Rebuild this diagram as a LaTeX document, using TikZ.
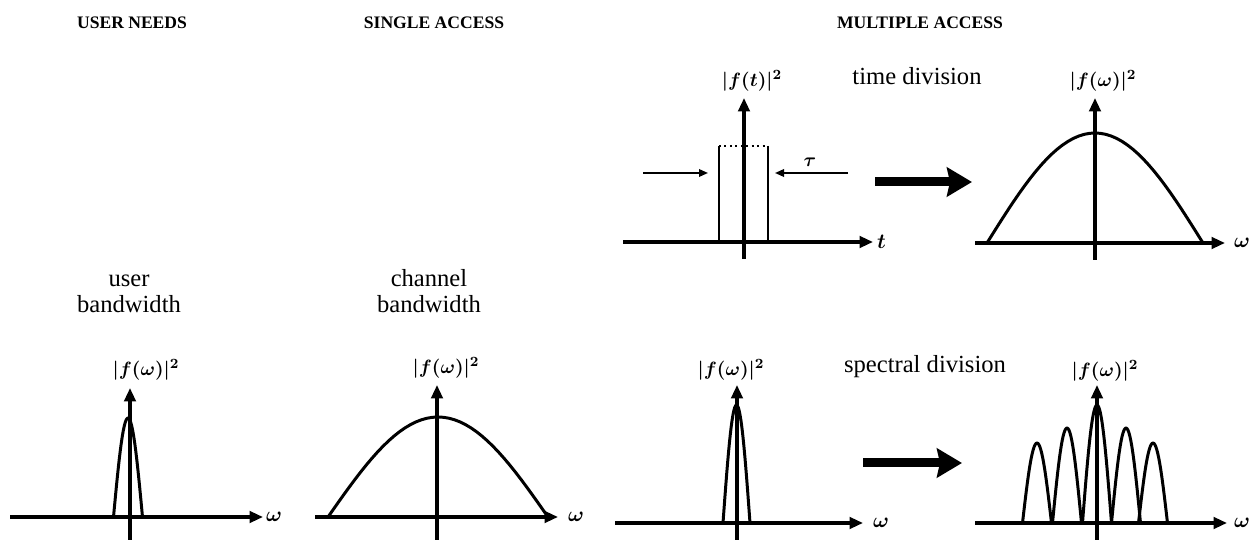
\documentclass[tikz,border=0pt]{standalone}
\usepackage{fontspec}
\setmainfont{Liberation Serif}
\usetikzlibrary{arrows.meta}

\begin{document}
\begin{tikzpicture}[
  x=0.02cm, y=-0.02cm,
  axis/.style={line width=1.8pt, -{Triangle[length=2.7mm,width=2.3mm]}},
  curve/.style={line width=1.7pt, line join=round},
  heading/.style={font=\fontsize{10}{12}\selectfont\bfseries, inner sep=0pt},
  caption/.style={font=\fontsize{14}{14.8}\selectfont, align=center, inner sep=0pt},
  fn/.style={font=\fontsize{11}{13}\selectfont\boldmath, inner sep=0pt},
  var/.style={font=\fontsize{12}{14}\selectfont\boldmath, anchor=west, inner sep=1pt},
  bigarrow/.style={line width=0.18cm, -{Stealth[length=0.5cm,width=0.58cm,inset=0.06cm]}},
  tauarrow/.style={line width=1pt, -{Triangle[length=1.8mm,width=1.5mm]}},
]
\useasboundingbox (0,0) rectangle (1249,540);

\node[heading] (needs) at (132,22.5) {USER NEEDS};
\node[heading] (single) at (434,22.5) {SINGLE ACCESS};
\node[heading] (multi) at (920,22.5) {MULTIPLE ACCESS};

\node[caption, anchor=south] (userbw) at (129,313) {user\\bandwidth};
\node[caption, anchor=south] (chanbw) at (429,313) {channel\\bandwidth};
\node[caption, anchor=base] (timediv) at (917,85) {time division};
\node[caption, anchor=base] (specdiv) at (925,373) {spectral division};

% user bandwidth
\draw[curve] plot[domain=-1:1, samples=31] ({128+14.5*\x},{517-99*cos(90*\x)});
\draw[axis] (10,517) -- (263,517);
\draw[axis] (130,540) -- (130,388);
\node[fn] (fuser) at (146,370) {$|f(\omega)|^2$};
\node[var] (wuser) at (264,517) {$\omega$};

% channel bandwidth
\draw[curve] plot[domain=-1:1, samples=41] ({438+110*\x},{517-100*cos(90*\x)});
\draw[axis] (315,517) -- (558,517);
\draw[axis] (437,540) -- (437,385);
\node[fn] (fchan) at (446,368) {$|f(\omega)|^2$};
\node[var] (wchan) at (566,517) {$\omega$};

% time division
\draw[line width=1.3pt] (719,242) -- (719,146);
\draw[line width=1.3pt] (768,146) -- (768,242);
\draw[line width=1.1pt, dotted] (719,146) -- (768,146);
\draw[axis] (623,242) -- (873,242);
\draw[axis] (744,259) -- (744,98);
\node[fn] (ft) at (752,81) {$|f(t)|^2$};
\node[var] (tvar) at (875,242) {$t$};
\coordinate (tauL0) at (643,173);
\coordinate (tauL1) at (708,173);
\coordinate (tauR0) at (848,173);
\coordinate (tauR1) at (775,173);
\draw[tauarrow] (tauL0) -- (tauL1);
\draw[tauarrow] (tauR0) -- (tauR1);
\node[fn] (tau) at (810,162) {$\tau$};

\coordinate (tdA) at (875,182);
\coordinate (tdB) at (972,182);
\draw[bigarrow] (tdA) -- (tdB);

\draw[curve] plot[domain=-1:1, samples=41] ({1095+108*\x},{243-110*cos(90*\x)});
\draw[axis] (975,243) -- (1225,243);
\draw[axis] (1095,260) -- (1095,98);
\node[fn] (ftd) at (1103,81) {$|f(\omega)|^2$};
\node[var] (wtd) at (1232,243) {$\omega$};

% spectral division
\draw[curve] plot[domain=-1:1, samples=31] ({736.5+13.5*\x},{523-118*cos(90*\x)});
\draw[axis] (615,523) -- (863,523);
\draw[axis] (737,540) -- (737,385);
\node[fn] (fspec) at (731,370) {$|f(\omega)|^2$};
\node[var] (wspec) at (871,523) {$\omega$};

\coordinate (sdA) at (863,463);
\coordinate (sdB) at (962,463);
\draw[bigarrow] (sdA) -- (sdB);

\foreach \c/\h in {1037/80, 1067/95, 1097/118, 1126/95, 1153/80}
  \draw[curve] plot[domain=-1:1, samples=31] ({\c+14.5*\x},{523-\h*cos(90*\x)});
\draw[axis] (975,523) -- (1227,523);
\draw[axis] (1097,540) -- (1097,385);
\node[fn] (fsd) at (1105,371) {$|f(\omega)|^2$};
\node[var] (wsd) at (1232,523) {$\omega$};
\end{tikzpicture}
\end{document}
